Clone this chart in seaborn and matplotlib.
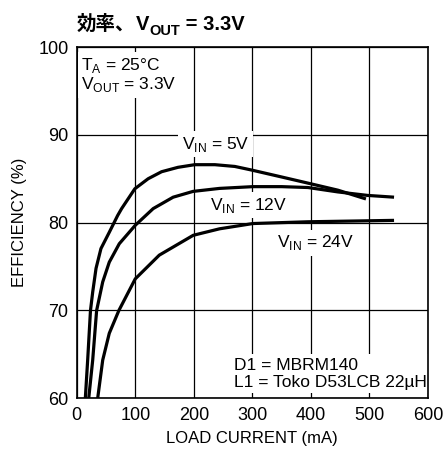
import matplotlib
matplotlib.use("Agg")
import matplotlib.pyplot as plt
import seaborn as sns
import pandas as pd

# Efficiency vs load current, three input voltages
load_5v = [14.7, 18.7, 23.5, 27.3, 33, 41.4, 55.6, 69.8, 76.7, 99.3, 122, 145, 173, 201.6, 236, 270, 298, 350, 395, 446, 494]
eff_5v = [60, 64.35, 70, 72.1, 74.8, 77.05, 78.9, 80.8, 81.6, 83.86, 85.0, 85.8, 86.3, 86.6, 86.6, 86.4, 86.0, 85.2, 84.5, 83.7, 82.7]

load_12v = [20.5, 27.3, 34, 44.4, 55.6, 72.7, 100, 130.6, 164.7, 198.8, 244, 301, 350, 395, 446, 497, 542]
eff_12v = [60, 64.35, 70, 73.25, 75.5, 77.6, 79.7, 81.6, 82.9, 83.56, 83.9, 84.1, 84.1, 84.0, 83.5, 83.1, 82.9]

load_24v = [35.8, 44.4, 55.6, 72, 100, 141, 199, 244, 301, 395, 542]
eff_24v = [60, 64.35, 67.4, 70, 73.6, 76.3, 78.56, 79.3, 79.9, 80.1, 80.26]

series_names = ["5V", "12V", "24V"]
x_ticks = [0, 100, 200, 300, 400, 500, 600]
y_ticks = [60, 70, 80, 90, 100]

df = pd.concat([
    pd.DataFrame({"load": load_5v, "eff": eff_5v, "vin": "5V"}),
    pd.DataFrame({"load": load_12v, "eff": eff_12v, "vin": "12V"}),
    pd.DataFrame({"load": load_24v, "eff": eff_24v, "vin": "24V"}),
])

sns.set_style("white")
latin = ["Liberation Sans Narrow", "Liberation Sans", "DejaVu Sans"]
plt.rcParams["font.family"] = latin
plt.rcParams["text.color"] = "black"
plt.rcParams["axes.labelcolor"] = "black"
plt.rcParams["mathtext.fontset"] = "custom"

fig = plt.figure(figsize=(4.45, 4.55), dpi=100)
ax = fig.add_axes([0.1724, 0.1246, 0.7894, 0.7721])

sns.lineplot(data=df, x="load", y="eff", hue="vin", hue_order=series_names,
             palette=["black"] * 3, linewidth=2.3, errorbar=None, legend=False,
             ax=ax, zorder=3, solid_joinstyle="round", solid_capstyle="butt")

ax.set_xlim(0, 600)
ax.set_ylim(60, 100)
ax.set_xticks(x_ticks)
ax.set_yticks(y_ticks)
ax.tick_params(length=0, labelsize=13, pad=6, colors="black")
ax.grid(True, color="black", linewidth=0.9)
ax.set_axisbelow(True)
for s in ax.spines.values():
    s.set_color("black")
    s.set_linewidth(1.2)
    s.set_zorder(5)

ax.set_xlabel("LOAD CURRENT (mA)", fontsize=12, labelpad=5)
ax.set_ylabel("EFFICIENCY (%)", fontsize=12, labelpad=8)

box = dict(facecolor="white", edgecolor="none", pad=2.5)

ax.text(8, 96.8, "T$_{\\mathregular{A}}$ = 25°C\nV$_{\\mathregular{OUT}}$ = 3.3V",
        fontsize=12.5, va="center", ha="left", linespacing=1.05, bbox=box, zorder=4)
ax.text(237, 88.95, "V$_{\\mathregular{IN}}$ = 5V", fontsize=12.5, ha="center", va="center",
        bbox=box, zorder=4)
ax.text(294, 81.97, "V$_{\\mathregular{IN}}$ = 12V", fontsize=12.5, ha="center", va="center",
        bbox=box, zorder=4)
ax.text(408, 77.7, "V$_{\\mathregular{IN}}$ = 24V", fontsize=12.5, ha="center", va="center",
        bbox=box, zorder=4)
ax.text(268, 62.8, "D1 = MBRM140\nL1 = Toko D53LCB 22µH", fontsize=12.5, ha="left",
        va="center", linespacing=1.15, bbox=box, zorder=4)

# Title pieces chained left to right: CJK text, V, subscript, remainder
t1 = fig.text(77 / 445, 1 - 30 / 455, "効率、", fontsize=14, fontweight="bold",
              family=["Noto Sans CJK JP", "DejaVu Sans"], ha="left", va="baseline")
t2 = ax.annotate("V", xy=(1, 0), xycoords=t1, xytext=(0, 0), textcoords="offset points",
                 fontsize=14.5, fontweight="bold", family=latin,
                 ha="left", va="bottom", annotation_clip=False)
t3 = ax.annotate("OUT", xy=(1, 0), xycoords=t2, xytext=(0, -3), textcoords="offset points",
                 fontsize=10.5, fontweight="bold", family=latin,
                 ha="left", va="bottom", annotation_clip=False)
ax.annotate(" = 3.3V", xy=(1, 0), xycoords=t3, xytext=(0, 3), textcoords="offset points",
            fontsize=14.5, fontweight="bold", family=latin,
            ha="left", va="bottom", annotation_clip=False)

fig.savefig("out.png", dpi=100)
